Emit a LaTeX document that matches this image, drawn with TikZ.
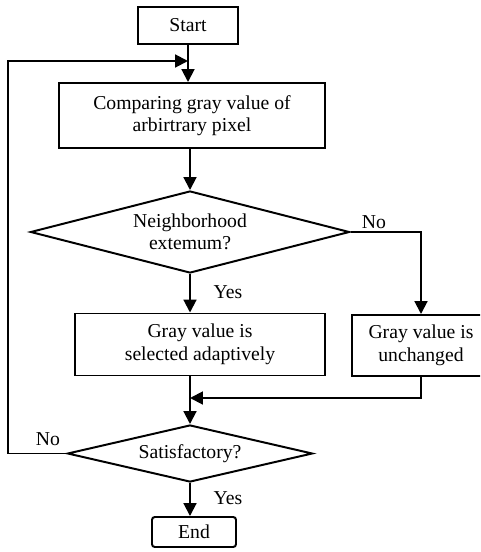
\documentclass[tikz,border=0pt]{standalone}
\usepackage{fontspec}
\setmainfont{Liberation Serif}
\usetikzlibrary{shapes.geometric,arrows.meta}

\begin{document}
\begin{tikzpicture}[x=0.025cm,y=-0.025cm,
        line width=1.4pt,
        font=\fontsize{14}{16}\selectfont,
        box/.style={draw,rectangle,align=center,inner sep=2pt},
        decision/.style={draw,diamond,aspect=4,align=center,inner sep=1pt},
        arr/.style={-{Triangle[length=0.32cm,width=0.32cm]}},
        lbl/.style={inner sep=0pt}]
        % Page frame
        \clip (0,0) rectangle (480,552);

        % Boxes and decisions
        \node[box,minimum width=2.5cm,minimum height=0.925cm] (start) at (188,25.5) {Start};
        \node[box,minimum width=6.65cm,minimum height=1.625cm] (comp) at (192,115.5) {Comparing gray value of\\arbirtrary pixel};
        \node[decision,minimum width=7.975cm,minimum height=2.05cm] (nbh) at (190,232) {Neighborhood\\extemum?};
        \node[box,minimum width=6.25cm,minimum height=1.55cm] (sel) at (200,344.5) {Gray value is\\selected adaptively};
        \node[box,minimum width=3.45cm,minimum height=1.525cm] (unch) at (421,345.5) {Gray value is\\unchanged};
        \node[decision,aspect=4.3,minimum width=6.125cm,minimum height=1.425cm] (sat) at (190,453.5) {Satisfactory?};
        \node[box,rounded corners=2pt,minimum width=2.1cm,minimum height=0.75cm] (end) at (194,532) {End};

        % Joining points
        \coordinate (join) at (start.south |- 0,61);
        \coordinate (merge) at (sat.north |- 0,398);

        % Main flow
        \draw[arr] (start.south) -- (start.south |- comp.north);
        \draw[arr] (comp.south -| nbh.north) -- (nbh.north);
        \draw[arr] (nbh.south) -- (nbh.south |- sel.north)
            node[lbl] (yes1) at (228,292) {Yes};
        \draw[arr] (nbh.east) -| (unch.north)
            node[lbl] (no1) at (374,222) {No};
        \draw (sat.north |- sel.south) -- (merge);
        \draw[arr] (unch.south) |- (merge);
        \draw[arr] (merge) -- (sat.north);
        \draw[arr] (sat.south) -- (sat.south |- end.north)
            node[lbl] (yes2) at (228,498) {Yes};

        % Loop back
        \draw[arr] (sat.west) -- (8,0 |- sat.west) |- (join)
            node[lbl] (no2) at (48,439) {No};
    \end{tikzpicture}
\end{document}
